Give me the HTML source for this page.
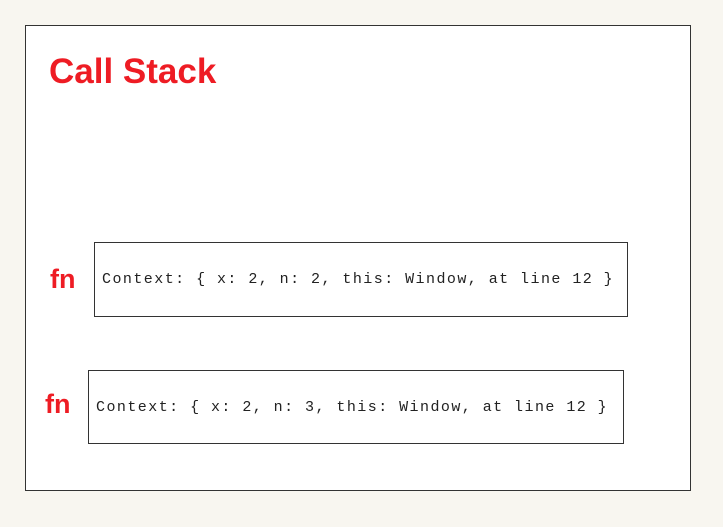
<!DOCTYPE html>
<html><head><style>
body{margin:0;width:723px;height:527px;background:#f8f6f0;position:relative;overflow:hidden}
.outer{position:absolute;left:25px;top:25px;width:666px;height:466px;border:1.5px solid #333;background:#fff;box-sizing:border-box}
.title{position:absolute;left:49px;top:52px;font:bold 35px "Liberation Sans",sans-serif;color:#ee1c24;line-height:40px}
.fn{position:absolute;font:bold 27px "Liberation Sans",sans-serif;color:#ee1c24;line-height:28px}
.box{position:absolute;border:1.8px solid #333;box-sizing:border-box;background:#fff}
.t{position:absolute;font:15px "Liberation Mono",monospace;letter-spacing:1.45px;color:#222;white-space:pre;line-height:18px}
</style></head><body>
<div class="outer"></div>
<div class="title">Call Stack</div>
<div class="fn" style="left:50px;top:265px">fn</div>
<div class="box" style="left:94px;top:242px;width:534px;height:75px"></div>
<div class="t" style="left:102px;top:271px">Context: { x: 2, n: 2, this: Window, at line 12 }</div>
<div class="fn" style="left:45px;top:390px">fn</div>
<div class="box" style="left:88px;top:370px;width:536px;height:74px"></div>
<div class="t" style="left:96px;top:399px">Context: { x: 2, n: 3, this: Window, at line 12 }</div>
</body></html>
